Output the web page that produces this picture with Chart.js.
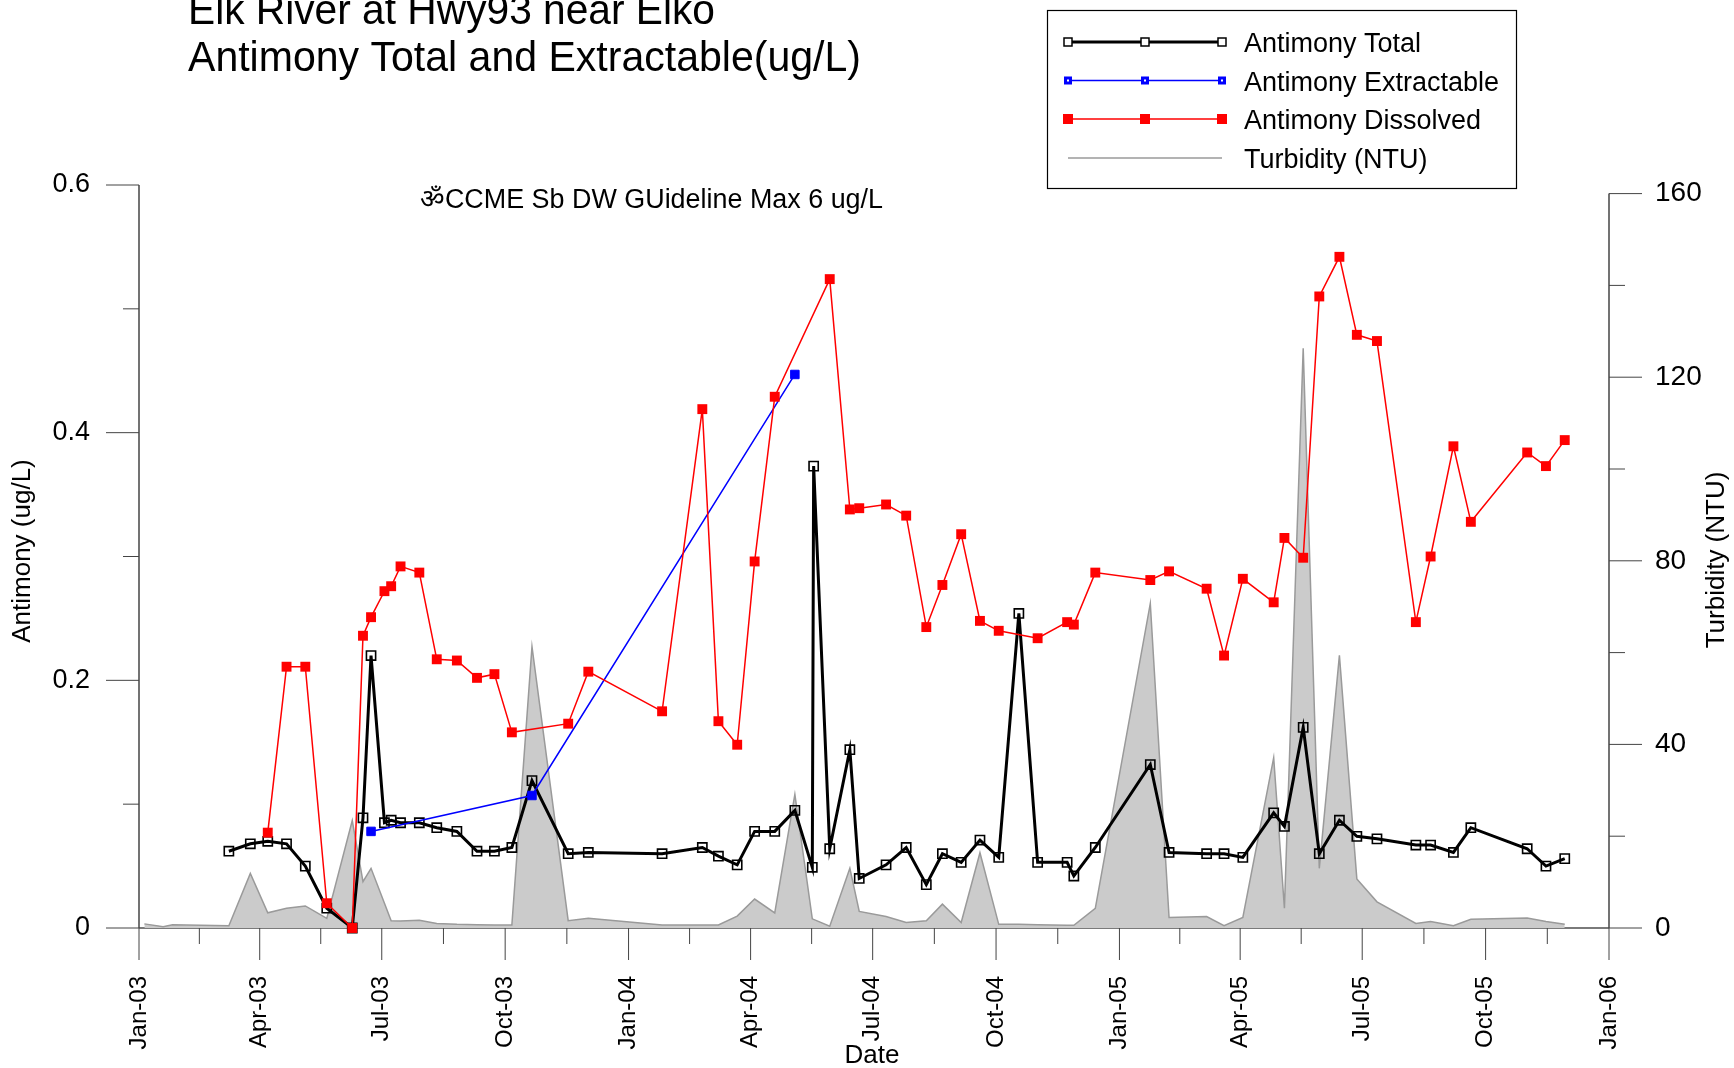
<!DOCTYPE html>
<html>
<head>
<meta charset="utf-8">
<title>Elk River at Hwy93 near Elko</title>
<script src="https://cdn.jsdelivr.net/npm/chart.js@4.4.1/dist/chart.umd.min.js"></script>
<style>
  html, body { margin: 0; padding: 0; background: #fff; }
  canvas { display: block; }
</style>
</head>
<body>
<canvas id="chart" width="1734" height="1068"></canvas>
<script>
const titleLines = ['Elk River at Hwy93 near Elko', 'Antimony Total and Extractable(ug/L)'];
const guidelineNote = 'ॐCCME Sb DW GUideline Max 6 ug/L';

// quarter ticks on the date axis
const xTickDates = ['2003-01-01', '2003-04-01', '2003-07-01', '2003-10-01', '2004-01-01', '2004-04-01', '2004-07-01',
  '2004-10-01', '2005-01-01', '2005-04-01', '2005-07-01', '2005-10-01', '2006-01-01'];
const xTickLabels = ['Jan-03', 'Apr-03', 'Jul-03', 'Oct-03', 'Jan-04', 'Apr-04', 'Jul-04',
  'Oct-04', 'Jan-05', 'Apr-05', 'Jul-05', 'Oct-05', 'Jan-06'];
const leftTicks = [0, 0.2, 0.4, 0.6];
const rightTicks = [0, 40, 80, 120, 160];

const totalDates = ['2003-03-09', '2003-03-25', '2003-04-07', '2003-04-21', '2003-05-05', '2003-05-21', '2003-06-09',
  '2003-06-17', '2003-06-23', '2003-07-03', '2003-07-08', '2003-07-15', '2003-07-29', '2003-08-11', '2003-08-26',
  '2003-09-10', '2003-09-23', '2003-10-06', '2003-10-21', '2003-11-17', '2003-12-02',
  '2004-01-26', '2004-02-25', '2004-03-08', '2004-03-22', '2004-04-04', '2004-04-19', '2004-05-04', '2004-05-17',
  '2004-05-18', '2004-05-30', '2004-06-14', '2004-06-21', '2004-07-11', '2004-07-26', '2004-08-10', '2004-08-22',
  '2004-09-05', '2004-09-19', '2004-10-03', '2004-10-18', '2004-11-01', '2004-11-23', '2004-11-28', '2004-12-14',
  '2005-01-24', '2005-02-07', '2005-03-07', '2005-03-20', '2005-04-03', '2005-04-26', '2005-05-04', '2005-05-18',
  '2005-05-30', '2005-06-14', '2005-06-27', '2005-07-12', '2005-08-10', '2005-08-21', '2005-09-07', '2005-09-20',
  '2005-11-01', '2005-11-15', '2005-11-29'];
const totalValues = [0.062, 0.068, 0.070, 0.068, 0.050, 0.016, 0.000,
  0.089, 0.220, 0.085, 0.087, 0.085, 0.085, 0.081, 0.078,
  0.062, 0.062, 0.065, 0.119, 0.060, 0.061,
  0.060, 0.065, 0.058, 0.051, 0.078, 0.078, 0.095, 0.049,
  0.373, 0.064, 0.144, 0.040, 0.051, 0.065, 0.035, 0.060,
  0.053, 0.071, 0.057, 0.254, 0.053, 0.053, 0.042, 0.065,
  0.132, 0.061, 0.060, 0.060, 0.057, 0.093, 0.082, 0.162,
  0.060, 0.087, 0.074, 0.072, 0.067, 0.067, 0.061, 0.081,
  0.064, 0.050, 0.056];

const extractDates = ['2003-06-23', '2003-10-21', '2004-05-04'];
const extractValues = [0.078, 0.107, 0.447];

const dissolvedDates = ['2003-04-07', '2003-04-21', '2003-05-05', '2003-05-21', '2003-06-09', '2003-06-17', '2003-06-23',
  '2003-07-03', '2003-07-08', '2003-07-15', '2003-07-29', '2003-08-11', '2003-08-26', '2003-09-10', '2003-09-23',
  '2003-10-06', '2003-11-17', '2003-12-02',
  '2004-01-26', '2004-02-25', '2004-03-08', '2004-03-22', '2004-04-04', '2004-04-19', '2004-05-30', '2004-06-14',
  '2004-06-21', '2004-07-11', '2004-07-26', '2004-08-10', '2004-08-22', '2004-09-05', '2004-09-19', '2004-10-03',
  '2004-11-01', '2004-11-23', '2004-11-28', '2004-12-14',
  '2005-01-24', '2005-02-07', '2005-03-07', '2005-03-20', '2005-04-03', '2005-04-26', '2005-05-04', '2005-05-18',
  '2005-05-30', '2005-06-14', '2005-06-27', '2005-07-12', '2005-08-10', '2005-08-21', '2005-09-07', '2005-09-20',
  '2005-11-01', '2005-11-15', '2005-11-29'];
const dissolvedValues = [0.077, 0.211, 0.211, 0.020, 0.000, 0.236, 0.251,
  0.272, 0.276, 0.292, 0.287, 0.217, 0.216, 0.202, 0.205,
  0.158, 0.165, 0.207,
  0.175, 0.419, 0.167, 0.148, 0.296, 0.429, 0.524, 0.338,
  0.339, 0.342, 0.333, 0.243, 0.277, 0.318, 0.248, 0.240,
  0.234, 0.247, 0.245, 0.287,
  0.281, 0.288, 0.274, 0.220, 0.282, 0.263, 0.315, 0.299,
  0.510, 0.542, 0.479, 0.474, 0.247, 0.300, 0.389, 0.328,
  0.384, 0.373, 0.394];

const turbidityDates = ['2003-01-05', '2003-01-19', '2003-01-26', '2003-03-09', '2003-03-25', '2003-04-07', '2003-04-21',
  '2003-05-05', '2003-05-21', '2003-06-09', '2003-06-17', '2003-06-23', '2003-07-03', '2003-07-08', '2003-07-15',
  '2003-07-29', '2003-08-11', '2003-08-26', '2003-09-10', '2003-09-23', '2003-10-06', '2003-10-21', '2003-11-17',
  '2003-12-02',
  '2004-01-26', '2004-02-25', '2004-03-08', '2004-03-22', '2004-04-04', '2004-04-19', '2004-05-04', '2004-05-17',
  '2004-05-30', '2004-06-14', '2004-06-21', '2004-07-11', '2004-07-26', '2004-08-10', '2004-08-22', '2004-09-05',
  '2004-09-19', '2004-10-03', '2004-10-18', '2004-11-01', '2004-11-23', '2004-11-28', '2004-12-14',
  '2005-01-24', '2005-02-07', '2005-03-07', '2005-03-20', '2005-04-03', '2005-04-26', '2005-05-04', '2005-05-18',
  '2005-05-30', '2005-06-14', '2005-06-27', '2005-07-12', '2005-08-10', '2005-08-21', '2005-09-07', '2005-09-20',
  '2005-11-01', '2005-11-15', '2005-11-29'];
const turbidityValues = [0.9, 0.3, 0.7, 0.5, 11.9, 3.3, 4.3,
  4.8, 2.1, 23.4, 10.1, 13.0, 5.4, 1.6, 1.5,
  1.7, 1.0, 0.8, 0.7, 0.65, 0.65, 61.3, 1.6,
  2.1,
  0.65, 0.65, 0.65, 2.6, 6.3, 3.3, 29.1, 2.0,
  0.4, 13.0, 3.6, 2.5, 1.2, 1.6, 5.2, 1.2,
  16.4, 0.8, 0.8, 0.7, 0.6, 0.6, 4.3,
  70.7, 2.3, 2.5, 0.5, 2.3, 37.1, 4.3, 126.3,
  13.0, 59.4, 10.7, 5.7, 1.0, 1.4, 0.5, 1.9,
  2.2, 1.4, 0.8];

const DAY0 = Date.UTC(2003, 0, 1);
function dayOf(s) {
  const [y, m, d] = s.split('-').map(Number);
  return (Date.UTC(y, m - 1, d) - DAY0) / 86400000;
}
function points(dates, values) {
  return dates.map((d, i) => ({ x: dayOf(d), y: values[i] }));
}
function midpoints(arr) {
  const out = [];
  for (let i = 0; i < arr.length - 1; i++) out.push((arr[i] + arr[i + 1]) / 2);
  return out;
}
function line(ctx, x1, y1, x2, y2) {
  ctx.beginPath();
  ctx.moveTo(x1, y1);
  ctx.lineTo(x2, y2);
  ctx.stroke();
}

const legendItems = [
  { label: 'Antimony Total', color: '#000', width: 3, marker: 'open' },
  { label: 'Antimony Extractable', color: '#0000ff', width: 1.5, marker: 'small' },
  { label: 'Antimony Dissolved', color: '#ff0000', width: 1.5, marker: 'filled' },
  { label: 'Turbidity (NTU)', color: '#9a9a9a', width: 1.5, marker: null },
];

// axes, ticks, titles and legend drawn by hand to get the old-style frame
const framePlugin = {
  id: 'frame',
  beforeDatasetsDraw(chart) {
    const { ctx, chartArea: a, scales: { x, y, y2 } } = chart;
    ctx.save();
    ctx.lineCap = 'butt';

    ctx.strokeStyle = '#7a7a7a';
    ctx.lineWidth = 2;
    line(ctx, a.left, a.bottom, a.right, a.bottom);

    ctx.strokeStyle = '#444';
    ctx.lineWidth = 1.5;
    line(ctx, a.left, y.getPixelForValue(0.6), a.left, a.bottom);
    line(ctx, a.right, y2.getPixelForValue(160), a.right, a.bottom);

    ctx.lineWidth = 1;
    leftTicks.forEach(v => { const p = y.getPixelForValue(v); line(ctx, a.left - 33, p, a.left, p); });
    midpoints(leftTicks).forEach(v => { const p = y.getPixelForValue(v); line(ctx, a.left - 16, p, a.left, p); });
    rightTicks.forEach(v => { const p = y2.getPixelForValue(v); line(ctx, a.right, p, a.right + 33, p); });
    midpoints(rightTicks).forEach(v => { const p = y2.getPixelForValue(v); line(ctx, a.right, p, a.right + 16, p); });

    const xt = xTickDates.map(dayOf);
    xt.forEach(v => { const p = x.getPixelForValue(v); line(ctx, p, a.bottom, p, a.bottom + 32); });
    midpoints(xt).forEach(v => { const p = x.getPixelForValue(v); line(ctx, p, a.bottom, p, a.bottom + 16); });
    ctx.restore();
  },
  afterDraw(chart) {
    const { ctx } = chart;
    ctx.save();
    ctx.fillStyle = '#000';
    ctx.textBaseline = 'alphabetic';
    ctx.textAlign = 'left';

    ctx.font = '42px "Liberation Sans", Arial, sans-serif';
    ctx.fillText(titleLines[0], 188, 24, 527);
    ctx.fillText(titleLines[1], 188, 71, 673);

    ctx.font = '27px "Liberation Sans", Arial, sans-serif';
    ctx.fillText(guidelineNote, 420, 208, 463);

    ctx.font = '26px "Liberation Sans", Arial, sans-serif';
    ctx.textAlign = 'center';
    ctx.textBaseline = 'middle';
    ctx.fillText('Date', 872, 1056);
    ctx.save();
    ctx.translate(23, 551);
    ctx.rotate(-Math.PI / 2);
    ctx.fillText('Antimony (ug/L)', 0, 0);
    ctx.restore();
    ctx.save();
    ctx.translate(1717, 560);
    ctx.rotate(-Math.PI / 2);
    ctx.fillText('Turbidity (NTU)', 0, 0);
    ctx.restore();

    // legend box
    ctx.strokeStyle = '#000';
    ctx.lineWidth = 1.2;
    ctx.strokeRect(1047.5, 10.5, 469, 178);
    const rows = [42, 80.5, 119, 158];
    const xs = [1068, 1145, 1222];
    ctx.font = '27px "Liberation Sans", Arial, sans-serif';
    ctx.textAlign = 'left';
    legendItems.forEach((it, i) => {
      const ry = rows[i];
      ctx.strokeStyle = it.color;
      ctx.lineWidth = it.width;
      line(ctx, xs[0], ry, xs[2], ry);
      xs.forEach(px => {
        if (it.marker === 'open') {
          ctx.fillStyle = '#fff';
          ctx.fillRect(px - 4, ry - 4, 8, 8);
          ctx.strokeStyle = '#000';
          ctx.lineWidth = 1.5;
          ctx.strokeRect(px - 4, ry - 4, 8, 8);
        } else if (it.marker === 'small') {
          ctx.fillStyle = it.color;
          ctx.fillRect(px - 4, ry - 4, 8, 8);
          ctx.fillStyle = '#fff';
          ctx.fillRect(px - 1, ry - 1, 2, 2);
        } else if (it.marker === 'filled') {
          ctx.fillStyle = it.color;
          ctx.fillRect(px - 5, ry - 5, 10, 10);
        }
      });
      ctx.fillStyle = '#000';
      ctx.fillText(it.label, 1244, ry + 3);
    });
    ctx.restore();
  }
};

new Chart(document.getElementById('chart'), {
  type: 'line',
  data: {
    datasets: [
      {
        label: 'Antimony Dissolved',
        data: points(dissolvedDates, dissolvedValues),
        yAxisID: 'y',
        borderColor: '#ff0000',
        backgroundColor: '#ff0000',
        borderWidth: 1.5,
        pointStyle: 'rect',
        pointRadius: 7,
        pointBorderWidth: 0,
        clip: false,
      },
      {
        label: 'Antimony Extractable',
        data: points(extractDates, extractValues),
        yAxisID: 'y',
        borderColor: '#0000ff',
        backgroundColor: '#0000ff',
        borderWidth: 1.5,
        pointStyle: 'rect',
        pointRadius: 6,
        pointBorderWidth: 1,
        clip: false,
      },
      {
        label: 'Antimony Total',
        data: points(totalDates, totalValues),
        yAxisID: 'y',
        borderColor: '#000',
        backgroundColor: 'rgba(0,0,0,0)',
        borderWidth: 3,
        pointStyle: 'rect',
        pointRadius: 6.5,
        pointBorderWidth: 1.6,
        pointBorderColor: '#000',
        clip: false,
      },
      {
        label: 'Turbidity (NTU)',
        data: points(turbidityDates, turbidityValues),
        yAxisID: 'y2',
        borderColor: '#9a9a9a',
        backgroundColor: '#cbcbcb',
        borderWidth: 1.5,
        pointRadius: 0,
        fill: 'origin',
      },
    ],
  },
  options: {
    responsive: false,
    animation: false,
    events: [],
    layout: { padding: { top: 185, left: 0, right: 0, bottom: 0 } },
    elements: { line: { tension: 0 } },
    plugins: {
      legend: { display: false },
      title: { display: false },
      tooltip: { enabled: false },
    },
    scales: {
      x: {
        type: 'linear',
        min: 0,
        max: dayOf('2006-01-01'),
        grid: { display: false, drawTicks: false },
        border: { display: false },
        afterBuildTicks: s => { s.ticks = xTickDates.map(d => ({ value: dayOf(d) })); },
        afterFit: s => { s.height = 140; },
        ticks: {
          autoSkip: false,
          minRotation: 90,
          maxRotation: 90,
          padding: 48,
          color: '#000',
          font: { family: '"Liberation Sans", Arial, sans-serif', size: 24 },
          callback: (v, i) => xTickLabels[i],
        },
      },
      y: {
        position: 'left',
        min: 0,
        max: 0.6,
        grid: { display: false, drawTicks: false },
        border: { display: false },
        afterBuildTicks: s => { s.ticks = leftTicks.map(v => ({ value: v })); },
        afterFit: s => { s.width = 139; },
        ticks: {
          padding: 49,
          color: '#000',
          font: { family: '"Liberation Sans", Arial, sans-serif', size: 27 },
          callback: v => (v === 0 ? '0' : v.toFixed(1)),
        },
      },
      y2: {
        position: 'right',
        min: 0,
        max: 160 * 743 / 734.4,
        grid: { display: false, drawTicks: false },
        border: { display: false },
        afterBuildTicks: s => { s.ticks = rightTicks.map(v => ({ value: v })); },
        afterFit: s => { s.width = 125; },
        ticks: {
          padding: 46,
          color: '#000',
          font: { family: '"Liberation Sans", Arial, sans-serif', size: 28 },
          callback: v => String(v),
        },
      },
    },
  },
  plugins: [framePlugin],
});
</script>
</body>
</html>
